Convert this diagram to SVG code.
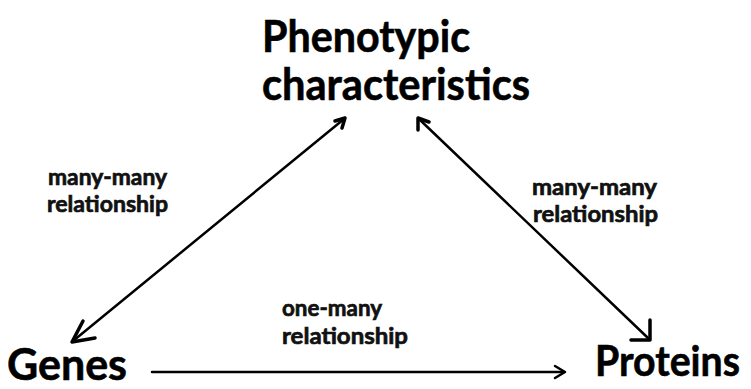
<svg xmlns="http://www.w3.org/2000/svg" width="751" height="389" viewBox="0 0 751 389">
<style>
.big{font-family:Lato,"Open Sans","Liberation Sans",sans-serif;font-weight:700;fill:#000;stroke:#000;stroke-width:0.6;}
.lbl{font-family:Lato,"Open Sans","Liberation Sans",sans-serif;font-weight:700;fill:#111;stroke:#111;stroke-width:0.7;font-size:23px;}
.ln{stroke:#000;stroke-width:2.5;fill:none;stroke-linecap:round;stroke-linejoin:round;}
.hd{stroke:#000;stroke-width:3.5;fill:none;stroke-linecap:round;stroke-linejoin:round;}
</style>
<rect width="751" height="389" fill="#fff"/>
<g id="phenotypic">
<text class="big" x="262" y="52" font-size="44" textLength="208" lengthAdjust="spacingAndGlyphs">Phenotypic</text>
<text class="big" x="262" y="100" font-size="44" textLength="268" lengthAdjust="spacingAndGlyphs">characteristics</text>
</g>
<g id="genes">
<text class="big" x="7" y="380" font-size="44" textLength="120" lengthAdjust="spacingAndGlyphs">Genes</text>
</g>
<g id="proteins">
<text class="big" x="595" y="376" font-size="42" textLength="145" lengthAdjust="spacingAndGlyphs">Proteins</text>
</g>
<g id="connectors">
<line class="ln" x1="344" y1="119" x2="73" y2="341"/>
<path class="hd" d="M335,121 L345,118 L342,128"/>
<path class="hd" d="M83,321 L72,342 L95,338"/>
<line class="ln" x1="419" y1="119" x2="648" y2="338"/>
<path class="hd" d="M418,130 L418,118 L429,122"/>
<path class="hd" d="M650,320 L650,340 L631,340"/>
<line class="ln" x1="152" y1="372" x2="564" y2="372"/>
<path class="ln" d="M555,366 L565,372 L555,378"/>
</g>
<g id="label-left">
<text class="lbl" x="48" y="185" textLength="119" lengthAdjust="spacingAndGlyphs">many-many</text>
<text class="lbl" x="47" y="212" textLength="121" lengthAdjust="spacingAndGlyphs">relationship</text>
</g>
<g id="label-right">
<text class="lbl" x="532" y="195" textLength="125" lengthAdjust="spacingAndGlyphs">many-many</text>
<text class="lbl" x="533" y="222" textLength="125" lengthAdjust="spacingAndGlyphs">relationship</text>
</g>
<g id="label-middle">
<text class="lbl" x="282" y="316" textLength="100" lengthAdjust="spacingAndGlyphs">one-many</text>
<text class="lbl" x="282" y="344" textLength="126" lengthAdjust="spacingAndGlyphs">relationship</text>
</g>
</svg>
